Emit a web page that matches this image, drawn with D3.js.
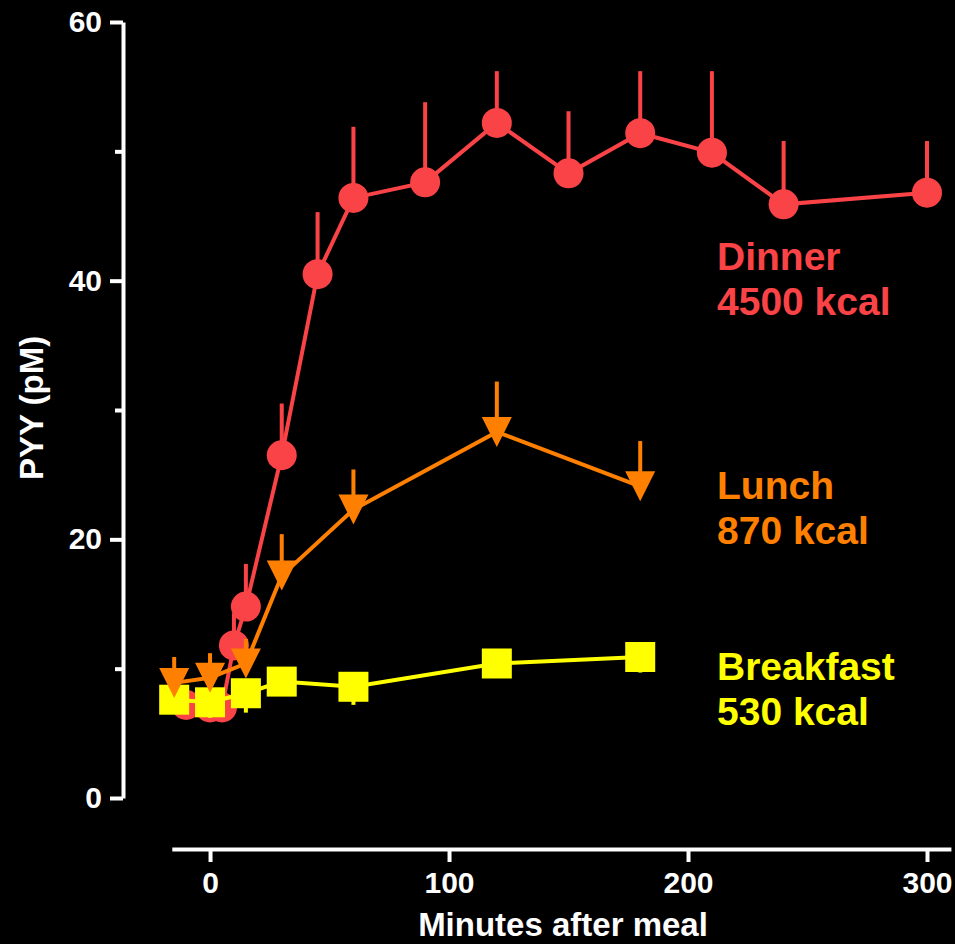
<!DOCTYPE html>
<html>
<head>
<meta charset="utf-8">
<script src="https://cdn.jsdelivr.net/npm/d3@7"></script>
<style>
  body { margin: 0; background: #000; }
  svg { display: block; }
  text { font-family: "Liberation Sans", Arial, sans-serif; font-weight: bold; }
</style>
</head>
<body>
<svg id="main" width="955" height="944"></svg>
<script>
// PYY after meals, mean + SEM
const dinnerTime = [-10, 0, 5, 10, 15, 30, 45, 60, 90, 120, 150, 180, 210, 240, 300]
const dinnerMean = [7.2, 7.0, 7.0, 11.8, 14.8, 26.5, 40.5, 46.4, 47.6, 52.2, 48.3, 51.4, 49.9, 45.9, 46.8]
const dinnerErr  = [0.8, 0.8, 0.8, 2.5, 3.3, 4.0, 4.8, 5.5, 6.2, 4.0, 4.8, 4.8, 6.3, 4.9, 4.0]

const lunchTime = [-15, 0, 15, 30, 60, 120, 180]
const lunchMean = [8.9, 9.3, 10.4, 17.2, 22.3, 28.3, 24.1]
const lunchErr  = [2.0, 1.9, 1.9, 3.2, 3.1, 3.9, 3.5]

const breakfastTime = [-15, 0, 15, 30, 60, 120, 180]
const breakfastMean = [7.6, 7.4, 8.1, 9.0, 8.6, 10.4, 10.9]
const breakfastErr  = [0.8, 1.2, 1.5, 0.8, 1.4, 0.6, 1.2]

const seriesNames = ["Dinner", "Lunch", "Breakfast"]
const seriesKcal = ["4500 kcal", "870 kcal", "530 kcal"]

const yTicks = [0, 20, 40, 60]
const yMinorTicks = [10, 30, 50]
const xTicks = [0, 100, 200, 300]

const svg = d3.select('svg#main')
svg.append("rect").attr("width", 955).attr("height", 944).attr("fill", "#000")

const xSc = d3.scaleLinear().domain([-16, 310]).range([171.8, 950.9])
const ySc = d3.scaleLinear().domain([0, 60]).range([798, 22])

// y axis, major + minor ticks
svg.append("g")
    .attr("transform", "translate(123,0)")
    .call(d3.axisLeft(ySc).tickValues(yTicks).tickSize(13).tickPadding(8).tickSizeOuter(0))
svg.append("g")
    .attr("transform", "translate(123,0)")
    .call(d3.axisLeft(ySc).tickValues(yMinorTicks).tickSize(8).tickFormat("").tickSizeOuter(0))
    .select(".domain").remove()

// x axis
svg.append("g")
    .attr("transform", "translate(0,849)")
    .call(d3.axisBottom(xSc).tickValues(xTicks).tickSize(13).tickPadding(10).tickSizeOuter(0))

svg.selectAll(".domain, .tick line")
    .attr("stroke", "#fff")
    .attr("stroke-width", 4)
svg.selectAll(".tick text")
    .attr("fill", "#fff")
    .style("font-size", "30px")

// axis titles
svg.append("text")
    .attr("text-anchor", "middle")
    .attr("x", 563)
    .attr("y", 936)
    .attr("fill", "#fff")
    .style("font-size", "33px")
    .text("Minutes after meal")

svg.append("text")
    .attr("text-anchor", "middle")
    .attr("transform", "translate(43,408) rotate(-90)")
    .attr("fill", "#fff")
    .style("font-size", "33px")
    .text("PYY (pM)")

const colors = ["#f94346", "#ff8000", "#ffff00"]

function toRows(T, M, E) {
    return T.map((t, i) => ({x: t, y: M[i], e: E[i]}))
}

const line = d3.line().x(d => xSc(d.x)).y(d => ySc(d.y))

function drawSeries(rows, color, errDir, symbol) {
    const g = svg.append("g")
    // error bars, one side only
    g.selectAll("line.err")
        .data(rows)
        .enter()
        .append("line")
        .attr("x1", d => xSc(d.x))
        .attr("x2", d => xSc(d.x))
        .attr("y1", d => ySc(d.y))
        .attr("y2", d => ySc(d.y + errDir * d.e))
        .attr("stroke", color)
        .attr("stroke-width", 4)
    g.append("path")
        .datum(rows)
        .attr("d", line)
        .attr("fill", "none")
        .attr("stroke", color)
        .attr("stroke-width", 4)
    g.selectAll("path.pt")
        .data(rows)
        .enter()
        .append("path")
        .attr("transform", d => `translate(${xSc(d.x)},${ySc(d.y)})`)
        .attr("d", symbol)
        .attr("fill", color)
}

const circleSym = d3.symbol().type(d3.symbolCircle).size(Math.PI * 15 * 15)()
const squareSym = "M-15,-15H15V15H-15Z"
const triSym = "M-15,-15H15L0,15Z"

drawSeries(toRows(dinnerTime, dinnerMean, dinnerErr), colors[0], 1, circleSym)
drawSeries(toRows(breakfastTime, breakfastMean, breakfastErr), colors[2], -1, squareSym)
drawSeries(toRows(lunchTime, lunchMean, lunchErr), colors[1], 1, triSym)

// series labels
const labelY = [270, 499, 680]
seriesNames.forEach((name, i) => {
    const t = svg.append("text")
        .attr("x", 717)
        .attr("y", labelY[i])
        .attr("fill", colors[i])
        .style("font-size", "39px")
    t.append("tspan").attr("x", 717).text(name)
    t.append("tspan").attr("x", 717).attr("dy", 45).text(seriesKcal[i])
})
</script>
</body>
</html>
